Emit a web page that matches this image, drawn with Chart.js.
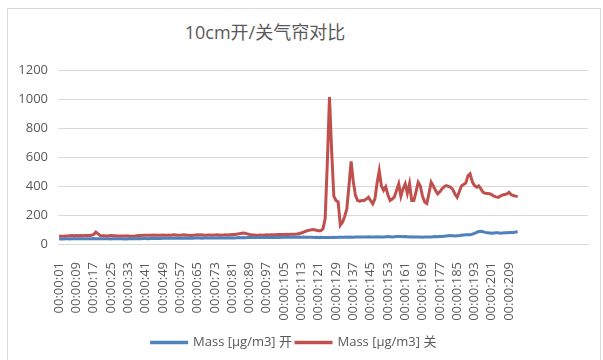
<!DOCTYPE html>
<html>
<head>
<meta charset="utf-8">
<script src="https://cdn.jsdelivr.net/npm/chart.js@4"></script>
<style>
  body { margin: 0; background: #fff; }
  #wrap { position: relative; width: 603px; height: 360px; overflow: hidden; }
  #frame { position: absolute; left: 7px; top: 8px; width: 594px; height: 360px; border: 1px solid #d9d9d9; box-sizing: border-box; }
  #title { position: absolute; left: 0; top: 20px; width: 530px; text-align: center; font: 18px "Open Sans", "Noto Sans CJK SC", sans-serif; color: #595959; line-height: 24px; }
  #chart { position: absolute; left: 0; top: 0; }
</style>
</head>
<body>
<div id="wrap">
  <div id="frame"></div>
  <div id="title">10cm开/关气帘对比</div>
  <canvas id="chart" width="603" height="360"></canvas>
</div>
<script>
// ------- data --------------------------------

const seriesNames = ['Mass [μg/m3] 开', 'Mass [μg/m3] 关'];
const totalRows = 245;   // rows in the sheet range (the ones past the data are empty)
const labelStep = 8;     // only every 8th time label is shown
const yTicks = [0, 200, 400, 600, 800, 1000, 1200];

// curtain open (blue)
const massOpen = [
    36, 35, 35, 36, 36, 35, 36, 37, 36, 36,
    37, 36, 37, 37, 36, 37, 38, 37, 36, 37,
    36, 36, 37, 36, 35, 36, 36, 37, 36, 36,
    35, 35, 36, 36, 37, 36, 37, 38, 37, 38,
    38, 37, 38, 39, 38, 38, 39, 38, 39, 40,
    39, 40, 39, 40, 41, 40, 39, 40, 41, 40,
    40, 41, 40, 41, 42, 41, 40, 41, 42, 41,
    41, 42, 41, 42, 43, 42, 41, 42, 43, 42,
    43, 42, 43, 44, 43, 44, 43, 44, 45, 44,
    44, 45, 44, 45, 46, 45, 44, 45, 46, 45,
    45, 46, 45, 46, 47, 46, 47, 46, 47, 48,
    47, 48, 47, 48, 47, 46, 47, 46, 45, 46,
    45, 46, 45, 44, 45, 44, 45, 46, 45, 46,
    47, 46, 47, 48, 47, 48, 47, 48, 49, 48,
    49, 48, 49, 50, 49, 48, 49, 50, 49, 48,
    49, 50, 51, 50, 49, 50, 51, 52, 51, 50,
    51, 50, 49, 50, 49, 48, 49, 48, 47, 48,
    49, 48, 49, 50, 51, 50, 51, 52, 54, 56,
    57, 58, 57, 56, 57, 58, 60, 62, 64, 63,
    64, 68, 74, 80, 86, 88, 84, 80, 78, 76,
    74, 76, 78, 77, 75, 76, 77, 78, 80, 79,
    80, 82, 84
];

// curtain closed (red)
const massClosed = [
    55, 54, 53, 55, 56, 57, 58, 57, 58, 57,
    58, 57, 58, 58, 59, 60, 66, 82, 70, 58,
    57, 57, 56, 57, 58, 57, 57, 56, 56, 55,
    55, 56, 55, 54, 54, 55, 57, 58, 59, 60,
    60, 61, 60, 61, 62, 60, 61, 60, 62, 61,
    60, 62, 61, 63, 62, 61, 60, 62, 63, 61,
    60, 59, 61, 62, 64, 62, 63, 61, 60, 62,
    62, 61, 62, 63, 62, 61, 62, 63, 62, 64,
    65, 66, 68, 70, 73, 76, 74, 70, 66, 63,
    62, 61, 61, 62, 61, 62, 63, 62, 63, 64,
    64, 65, 66, 65, 66, 67, 66, 68, 67, 68,
    69, 72, 76, 82, 88, 92, 96, 100, 98, 95,
    92, 92, 105, 175, 560, 1014, 640, 330, 300, 290,
    130, 150, 190, 240, 400, 570, 430, 335, 300, 295,
    300, 300, 310, 322, 300, 277, 311, 420, 505, 400,
    370, 395, 340, 300, 310, 325, 370, 415, 330, 380,
    415, 350, 415, 300, 300, 360, 426, 400, 330, 290,
    280, 350, 426, 400, 370, 346, 360, 380, 395, 403,
    398, 392, 375, 345, 322, 360, 400, 410, 420, 470,
    484, 430, 403, 392, 400, 380, 357, 350, 348, 346,
    340, 330, 325, 322, 330, 338, 341, 345, 357, 340,
    334, 330, 327
];

// time labels 00:00:01 ... for the filled rows, blank for the rest
const timeLabels = [];
for (let i = 0; i < totalRows; i++) {
    timeLabels.push(i < massOpen.length ? '00:00:' + String(i + 1).padStart(2, '0') : '');
}

const tickColor = '#595959';
const gridColor = '#d9d9d9';
const fontFamily = '"Open Sans", "Noto Sans CJK SC", sans-serif';

const chartData = {
    labels: timeLabels,
    datasets: [{
        label: seriesNames[0],
        data: massOpen,
        borderColor: '#4F81BD',
        backgroundColor: '#4F81BD',
        borderWidth: 3,
        pointRadius: 0,
        fill: false
    }, {
        label: seriesNames[1],
        data: massClosed,
        borderColor: '#C0504D',
        backgroundColor: '#C0504D',
        borderWidth: 3,
        pointRadius: 0,
        fill: false
    }]
};

const chartElement = document.getElementById('chart');

new Chart(chartElement, {
    type: 'line',
    data: chartData,
    options: {
        responsive: false,
        animation: false,
        devicePixelRatio: 1,
        layout: { padding: { top: 70, right: 15, bottom: 1, left: 0 } },
        plugins: {
            title: { display: false },
            tooltip: { enabled: false },
            legend: {
                position: 'bottom',
                labels: {
                    color: tickColor,
                    font: { family: fontFamily, size: 13 },
                    boxWidth: 35,
                    boxHeight: 0.5,
                    padding: 4
                }
            }
        },
        scales: {
            x: {
                type: 'category',
                offset: true,
                grid: { display: false },
                border: { display: true, color: gridColor },
                ticks: {
                    autoSkip: false,
                    minRotation: 90,
                    maxRotation: 90,
                    padding: 10,
                    color: tickColor,
                    font: { family: fontFamily, size: 13 },
                    callback: function (value, index) {
                        const label = this.getLabelForValue(value);
                        return index % labelStep === 0 && label ? label : null;
                    }
                },
                afterFit: scale => { scale.height = 88; }
            },
            y: {
                min: yTicks[0],
                max: yTicks[yTicks.length - 1],
                afterBuildTicks: scale => { scale.ticks = yTicks.map(v => ({ value: v })); },
                grid: { color: gridColor, drawTicks: false },
                border: { display: false },
                ticks: {
                    padding: 10,
                    color: tickColor,
                    font: { family: fontFamily, size: 13 },
                    callback: value => String(value)
                },
                afterFit: scale => { scale.width = 58; }
            }
        }
    }
});
</script>
</body>
</html>
